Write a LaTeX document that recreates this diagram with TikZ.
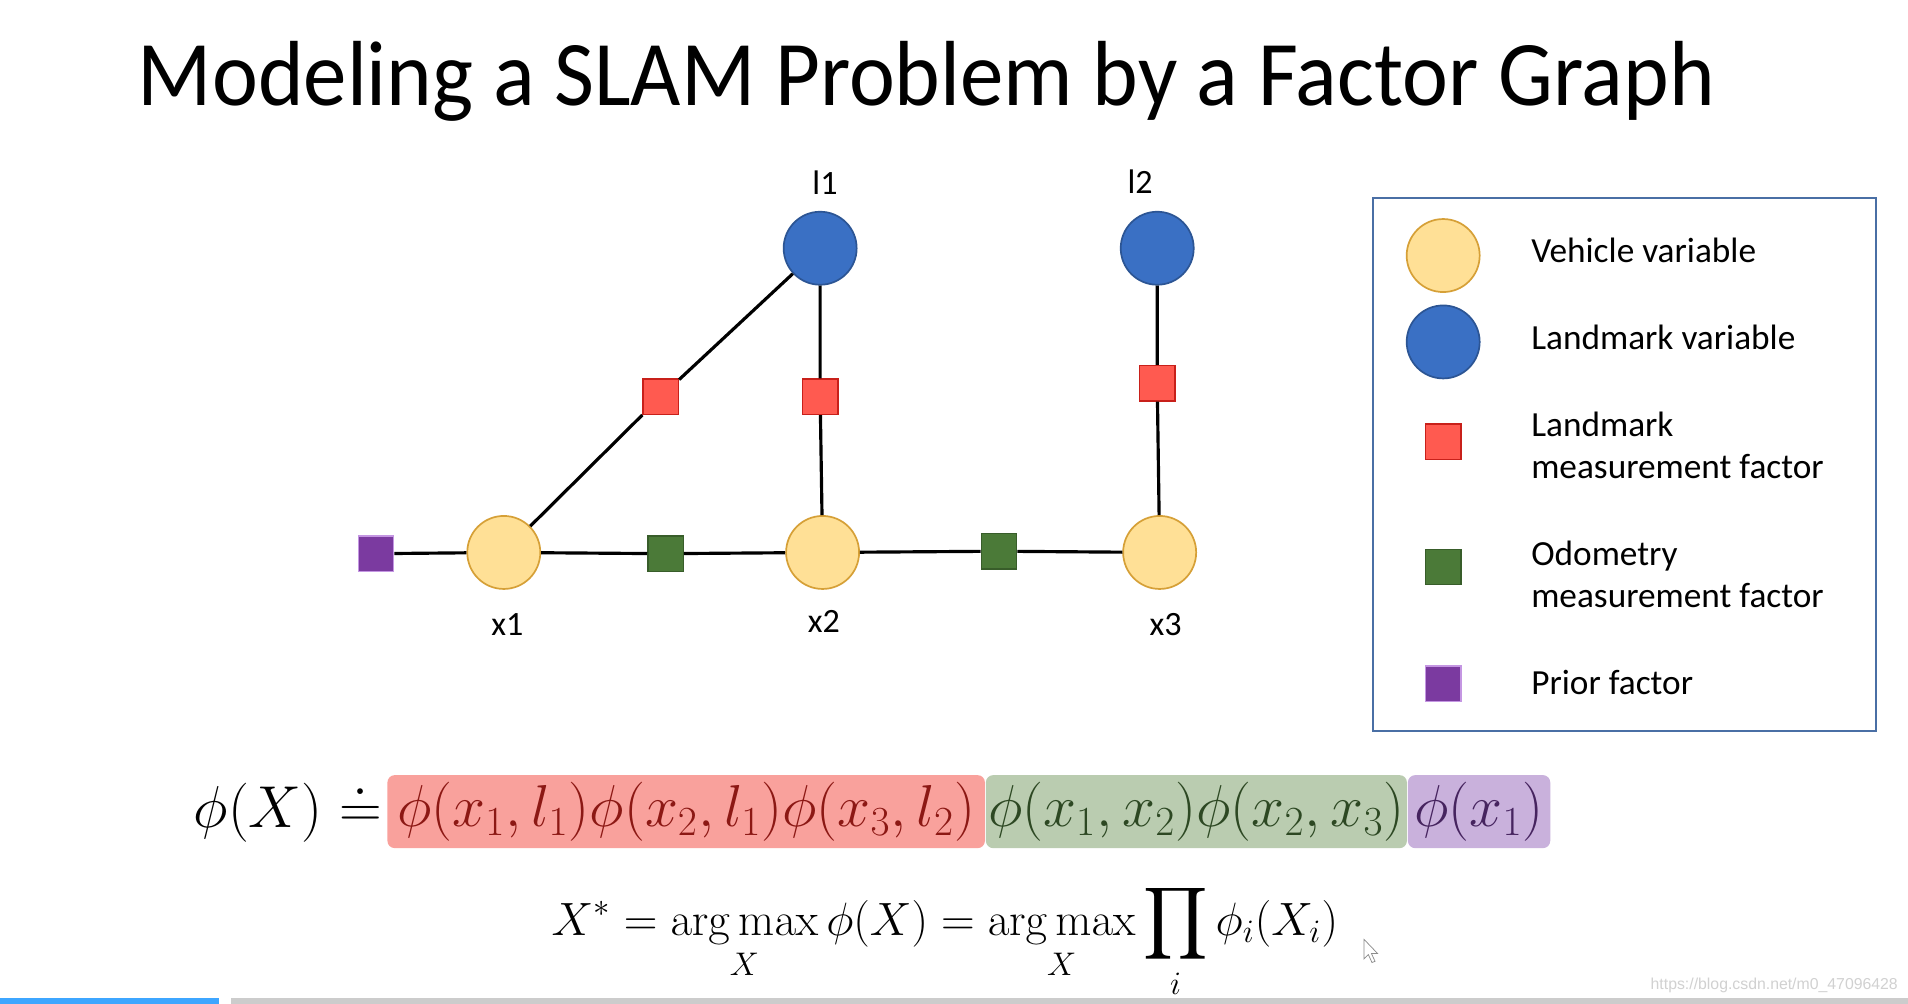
\RequirePackage{fix-cm}
\documentclass[tikz,border=0pt]{standalone}
\usepackage{amsmath}
\usepackage[no-math]{fontspec}
\setmainfont{Carlito}
\newfontfamily\titlefont[FakeStretch=0.94]{Carlito}
\newfontfamily\wmfont{Liberation Sans}
\usetikzlibrary{positioning}

\definecolor{vehfill}{RGB}{255,224,150}
\definecolor{vehdraw}{RGB}{214,160,55}
\definecolor{lmfill}{RGB}{58,112,196}
\definecolor{lmdraw}{RGB}{44,85,148}
\definecolor{redfill}{RGB}{255,90,80}
\definecolor{reddraw}{RGB}{200,32,26}
\definecolor{greenfill}{RGB}{75,122,56}
\definecolor{greendraw}{RGB}{56,93,42}
\definecolor{purplefill}{RGB}{123,58,160}
\definecolor{purpledraw}{RGB}{196,150,226}
\definecolor{legenddraw}{RGB}{74,111,165}
\definecolor{lmbox}{RGB}{249,161,156}
\definecolor{lmtext}{RGB}{140,24,20}
\definecolor{odobox}{RGB}{186,204,176}
\definecolor{odotext}{RGB}{45,72,35}
\definecolor{priorbox}{RGB}{201,177,220}
\definecolor{priortext}{RGB}{70,36,95}
\definecolor{barblue}{RGB}{62,166,255}

\begin{document}
\begin{tikzpicture}[x=0.5pt, y=-0.5pt,
		vehicle/.style={circle, minimum size=30pt, inner sep=0pt, fill=vehfill, draw=vehdraw, line width=0.7pt},
		landmark/.style={circle, minimum size=30pt, inner sep=0pt, fill=lmfill, draw=lmdraw, line width=0.7pt},
		lmfactor/.style={rectangle, minimum size=14.5pt, inner sep=0pt, fill=redfill, draw=reddraw, line width=0.6pt},
		odofactor/.style={rectangle, minimum size=14.5pt, inner sep=0pt, fill=greenfill, draw=greendraw, line width=0.6pt},
		priorfactor/.style={rectangle, minimum size=14.5pt, inner sep=0pt, fill=purplefill, draw=purpledraw, line width=0.6pt},
		edge/.style={line width=1.3pt},
		varlabel/.style={font=\fontsize{14}{17}\selectfont, inner sep=0pt},
		legendtext/.style={font=\fontsize{14.5}{17.5}\selectfont, anchor=west, align=left, inner sep=0pt},
		termbox/.style={rectangle, rounded corners=3pt, minimum height=30pt, inner sep=0pt, anchor=west, font=\fontsize{24.3}{29}\selectfont}]

		% фон
		\fill [white] ( 0, 0 ) rectangle ( 1568, 825 );
		\useasboundingbox ( 0, 0 ) rectangle ( 1568, 825 );

		% заголовок
		\node (title) [anchor=base west, inner sep=0pt, font=\titlefont\fontsize{38}{45}\selectfont] at ( 113, 87 ) {Modeling a SLAM Problem by a Factor Graph};

		% переменные
		\node (l1) [landmark] at ( 674, 204 ) {};
		\node (l2) [landmark] at ( 951, 204 ) {};
		\node (x1) [vehicle] at ( 414, 454 ) {};
		\node (x2) [vehicle] at ( 676, 454 ) {};
		\node (x3) [vehicle] at ( 953, 454 ) {};

		% факторы
		\node (m1) [lmfactor] at ( 543, 326 ) {};
		\node (m2) [lmfactor] at ( 674, 326 ) {};
		\node (m3) [lmfactor] at ( 951, 315 ) {};
		\node (o1) [odofactor] at ( 547, 455 ) {};
		\node (o2) [odofactor] at ( 821, 453 ) {};
		\node (p1) [priorfactor] at ( 309, 455 ) {};

		% ребра
		\draw [edge] (p1) -- (x1) -- (o1) -- (x2) -- (o2) -- (x3);
		\draw [edge] (x1) -- (m1) -- (l1);
		\draw [edge] (x2) -- (m2) -- (l1);
		\draw [edge] (x3) -- (m3) -- (l2);

		% подписи
		\node (l1lab) [varlabel] at ( 678, 150 ) {l1};
		\node (l2lab) [varlabel] at ( 937, 149 ) {l2};
		\node (x1lab) [varlabel] at ( 417, 513 ) {x1};
		\node (x2lab) [varlabel] at ( 677, 511 ) {x2};
		\node (x3lab) [varlabel] at ( 958, 513 ) {x3};

		% легенда
		\draw [legenddraw, line width=0.8pt] ( 1128, 163 ) rectangle ( 1542, 601 );
		\node (lgveh) [vehicle] at ( 1186, 210 ) {};
		\node (lglm) [landmark] at ( 1186, 281 ) {};
		\node (lgmeas) [lmfactor] at ( 1186, 363 ) {};
		\node (lgodo) [odofactor] at ( 1186, 466 ) {};
		\node (lgprior) [priorfactor] at ( 1186, 562 ) {};
		\node (tveh) [legendtext] at ( 1258, 206 ) {Vehicle variable};
		\node (tlm) [legendtext] at ( 1258, 277 ) {Landmark variable};
		\node (tmeas) [legendtext] at ( 1258, 366 ) {Landmark\\measurement factor};
		\node (todo) [legendtext] at ( 1258, 472 ) {Odometry\\measurement factor};
		\node (tprior) [legendtext] at ( 1258, 561 ) {Prior factor};

		% факторизация
		\node (phix) [anchor=base east, inner sep=0pt, font=\fontsize{24.3}{29}\selectfont] at ( 314, 680 ) {$\phi(X)\doteq$};
		\node (lmterms) [termbox, fill=lmbox, text=lmtext, minimum width=245.5pt] at ( 318, 667 ) {$\phi(x_1,l_1)\phi(x_2,l_1)\phi(x_3,l_2)$};
		\node (odoterms) [termbox, fill=odobox, text=odotext, minimum width=173pt, right=0pt of lmterms] {$\phi(x_1,x_2)\phi(x_2,x_3)$};
		\node (priorterms) [termbox, fill=priorbox, text=priortext, minimum width=58.5pt, right=0pt of odoterms] {$\phi(x_1)$};

		% оценка MAP
		\node (argmax) [anchor=base west, inner sep=0pt, font=\fontsize{19.2}{23}\selectfont] at ( 453, 769 ) {$\displaystyle X^* = \operatorname*{arg\,max}_X \phi(X) = \operatorname*{arg\,max}_X \prod_i \phi_i(X_i)$};

		% курсор, водяной знак, полоса прокрутки
		\draw [black!45, fill=white, line width=0.3pt] ( 1121, 772 ) -- ++( 0, 16 ) -- ++( 3.5, -3.5 ) -- ++( 3, 6.5 ) -- ++( 2.5, -1 ) -- ++( -3, -6.5 ) -- ++( 5, 0 ) -- cycle;
		\node (wm) [anchor=east, inner sep=0pt, text=black!18, font=\wmfont\fontsize{6.5}{8}\selectfont] at ( 1560, 810 ) {https://blog.csdn.net/m0\_47096428};
		\fill [barblue] ( 0, 820 ) rectangle ( 180, 825 );
		\fill [black!20] ( 190, 820 ) rectangle ( 1568, 825 );
	\end{tikzpicture}
\end{document}
